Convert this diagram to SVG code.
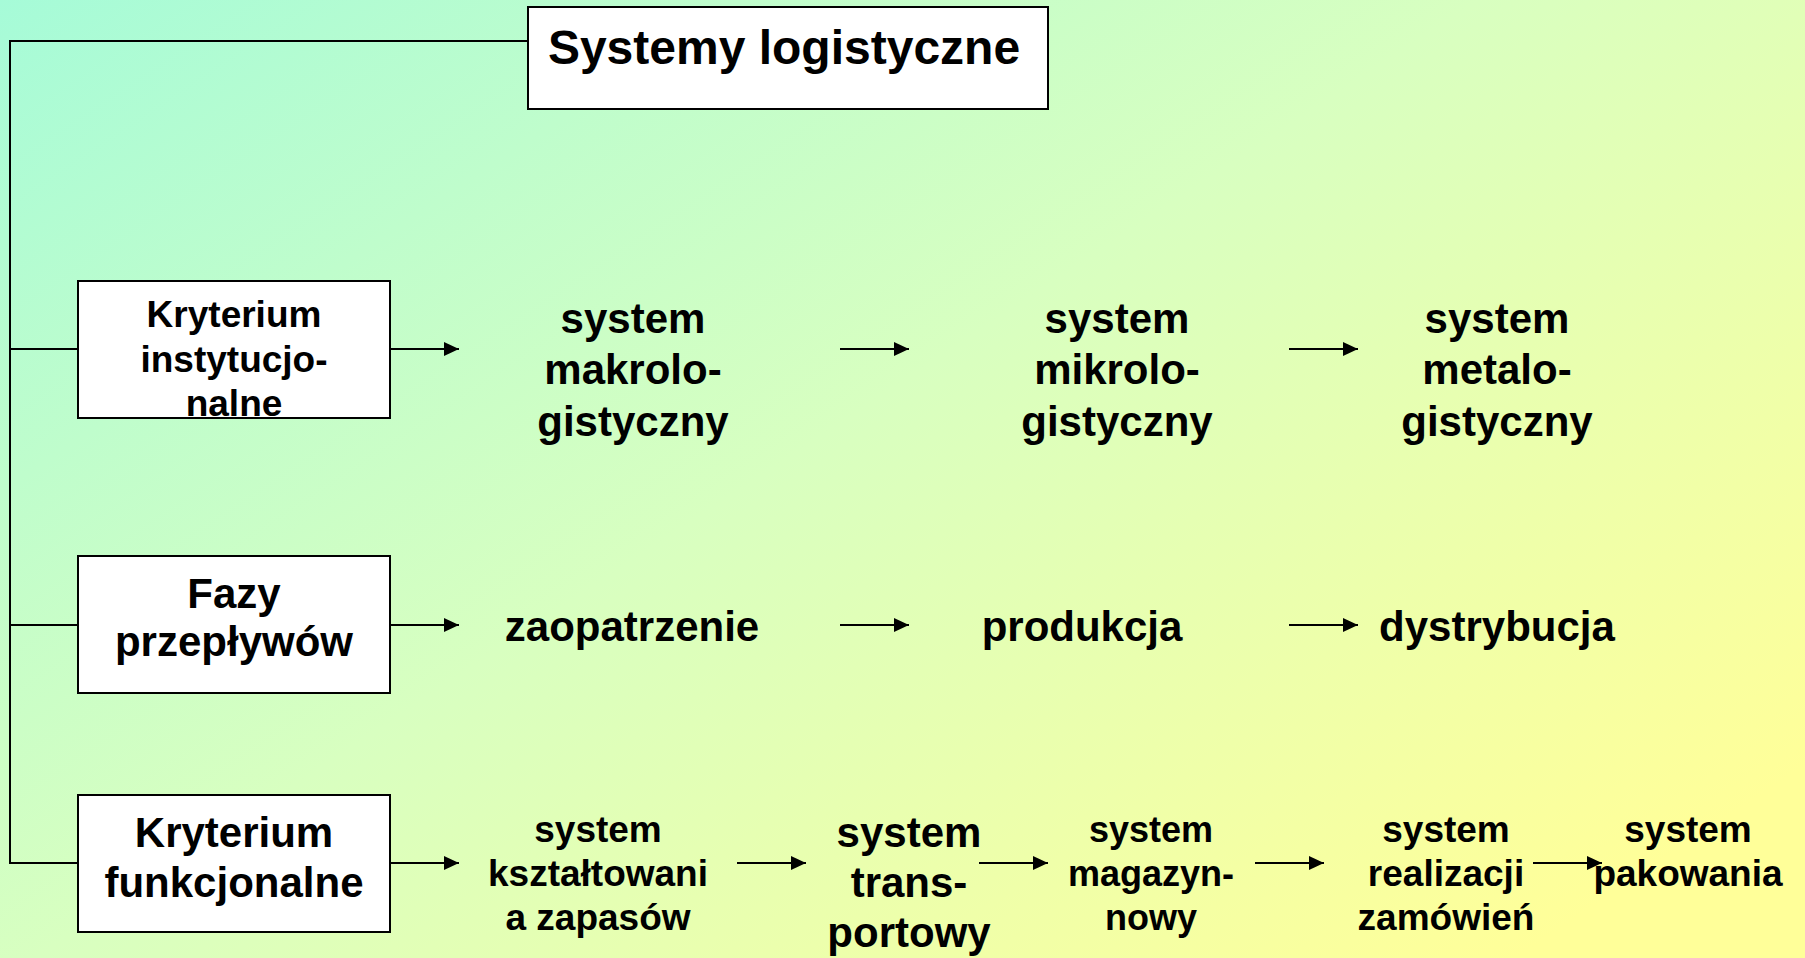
<svg xmlns="http://www.w3.org/2000/svg" width="1805" height="958" viewBox="0 0 1805 958">
<defs>
<linearGradient id="bg" x1="0" y1="0" x2="1" y2="0.8">
<stop offset="0" stop-color="#a6fbd8"/>
<stop offset="0.5" stop-color="#d8ffc0"/>
<stop offset="1" stop-color="#ffff99"/>
</linearGradient>
<marker id="ah" markerUnits="userSpaceOnUse" markerWidth="16" markerHeight="16" viewBox="0 0 16 16" refX="15" refY="8" orient="auto">
<path d="M0,1 L15,8 L0,15 Z" fill="#000"/>
</marker>
<style>
.box{fill:#fff;stroke:#000;stroke-width:2}
.ln{fill:none;stroke:#000;stroke-width:2}
.ar{fill:none;stroke:#000;stroke-width:2;marker-end:url(#ah)}
text{font-family:"Liberation Sans",Arial,sans-serif;font-weight:bold;fill:#000;text-anchor:middle}
.t48{font-size:48px}
.t42{font-size:42px}
.t37{font-size:37px}
.t36{font-size:36px}
</style>
</defs>
<rect x="0" y="0" width="1805" height="958" fill="url(#bg)"/>
<g id="connectors">
<path class="ln" d="M528,41 H10 V863 H78"/>
<path class="ln" d="M10,349 H78"/>
<path class="ln" d="M10,625 H78"/>
<path class="ar" d="M390,349 H459"/>
<path class="ar" d="M840,349 H909"/>
<path class="ar" d="M1289,349 H1358"/>
<path class="ar" d="M390,625 H459"/>
<path class="ar" d="M840,625 H909"/>
<path class="ar" d="M1289,625 H1358"/>
<path class="ar" d="M390,863 H459"/>
<path class="ar" d="M737,863 H806"/>
<path class="ar" d="M979,863 H1048"/>
<path class="ar" d="M1255,863 H1324"/>
<path class="ar" d="M1533,863 H1602"/>
</g>
<g id="title">
<rect class="box" x="528" y="7" width="520" height="102"/>
<text class="t48" x="784" y="64">Systemy logistyczne</text>
</g>
<g id="kryterium-instytucjonalne">
<rect class="box" x="78" y="281" width="312" height="137"/>
<text class="t37" x="234" y="327">Kryterium</text>
<text class="t37" x="234" y="372">instytucjo-</text>
<text class="t37" x="234" y="416">nalne</text>
</g>
<g id="fazy-przeplywow">
<rect class="box" x="78" y="556" width="312" height="137"/>
<text class="t42" x="234" y="608">Fazy</text>
<text class="t42" x="234" y="656">przepływów</text>
</g>
<g id="kryterium-funkcjonalne">
<rect class="box" x="78" y="795" width="312" height="137"/>
<text class="t42" x="234" y="847">Kryterium</text>
<text class="t42" x="234" y="897">funkcjonalne</text>
</g>
<g id="makro">
<text class="t42" x="633" y="333">system</text>
<text class="t42" x="633" y="384">makrolo-</text>
<text class="t42" x="633" y="436">gistyczny</text>
</g>
<g id="mikro">
<text class="t42" x="1117" y="333">system</text>
<text class="t42" x="1117" y="384">mikrolo-</text>
<text class="t42" x="1117" y="436">gistyczny</text>
</g>
<g id="metalo">
<text class="t42" x="1497" y="333">system</text>
<text class="t42" x="1497" y="384">metalo-</text>
<text class="t42" x="1497" y="436">gistyczny</text>
</g>
<g id="zaopatrzenie">
<text class="t42" x="632" y="641">zaopatrzenie</text>
</g>
<g id="produkcja">
<text class="t42" x="1082" y="641">produkcja</text>
</g>
<g id="dystrybucja">
<text class="t42" x="1497" y="641">dystrybucja</text>
</g>
<g id="zapasy">
<text class="t37" x="598" y="842">system</text>
<text class="t37" x="598" y="886">kształtowani</text>
<text class="t37" x="598" y="930">a zapasów</text>
</g>
<g id="transport">
<text class="t42" x="909" y="847">system</text>
<text class="t42" x="909" y="897">trans-</text>
<text class="t42" x="909" y="947">portowy</text>
</g>
<g id="magazyn">
<text class="t36" x="1151" y="842">system</text>
<text class="t36" x="1151" y="886">magazyn-</text>
<text class="t36" x="1151" y="930">nowy</text>
</g>
<g id="realizacja">
<text class="t37" x="1446" y="842">system</text>
<text class="t37" x="1446" y="886">realizacji</text>
<text class="t37" x="1446" y="930">zamówień</text>
</g>
<g id="pakowanie">
<text class="t37" x="1688" y="842">system</text>
<text class="t37" x="1688" y="886">pakowania</text>
</g>
</svg>
